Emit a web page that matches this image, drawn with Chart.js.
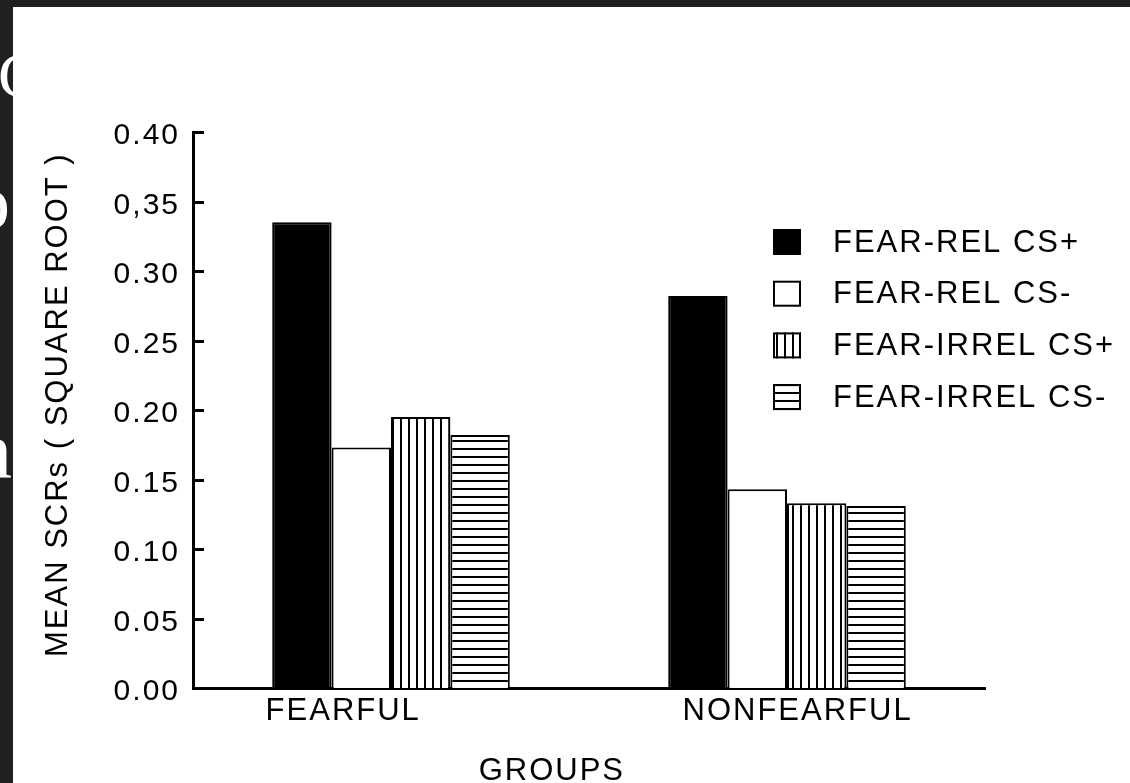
<!DOCTYPE html>
<html>
<head>
<meta charset="utf-8">
<script src="https://cdn.jsdelivr.net/npm/chart.js@4.4.1/dist/chart.umd.min.js"></script>
<style>
html, body { margin:0; padding:0; width:1130px; height:783px; overflow:hidden; background:#202020; }
#frame { position:absolute; left:0; top:0; width:1130px; height:783px; overflow:hidden; }
.edge { position:absolute; color:#fff; font-family:"Liberation Serif","DejaVu Serif",serif; line-height:1; white-space:nowrap; }
#paper { position:absolute; left:13px; top:7px; right:0; bottom:0; background:#fff; }
#wrap { position:absolute; left:0; top:0; width:1130px; height:790px; }
canvas { display:block; }
</style>
</head>
<body>
<div id="frame">
  <div class="edge" style="left:-2px;top:44px;font-size:64px">C</div>
  <div class="edge" style="left:-29px;top:163px;font-size:78px">o</div>
  <div class="edge" style="left:-28px;top:410px;font-size:80px">n</div>
  <div id="paper"></div>
  <div id="wrap"><canvas id="c" width="1130" height="790" style="width:1130px;height:790px"></canvas></div>
</div>
<script>
// ---- data ----
const categories = ['FEARFUL', 'NONFEARFUL'];
const seriesNames = ['FEAR-REL CS+', 'FEAR-REL CS-', 'FEAR-IRREL CS+', 'FEAR-IRREL CS-'];
const fearRelCSplus   = [0.335, 0.282];
const fearRelCSminus  = [0.173, 0.143];
const fearIrrelCSplus = [0.195, 0.133];
const fearIrrelCSminus= [0.182, 0.131];
const yTickValues = [0, 0.05, 0.10, 0.15, 0.20, 0.25, 0.30, 0.35, 0.40];
const yTickLabels = ['0.00', '0.05', '0.10', '0.15', '0.20', '0.25', '0.30', '0,35', '0.40'];
const xTitle = 'GROUPS';
const yTitle = 'MEAN SCRs ( SQUARE ROOT )';

// ---- styling helpers ----
const FONT = '"Liberation Sans", Arial, Helvetica, sans-serif';
const canvas = document.getElementById('c');
const mainCtx = canvas.getContext('2d');

function stripePattern(vertical) {
  const t = document.createElement('canvas');
  t.width = 8; t.height = 8;
  const g = t.getContext('2d');
  g.fillStyle = '#fff'; g.fillRect(0, 0, 8, 8);
  g.fillStyle = '#000';
  if (vertical) g.fillRect(0, 0, 2, 8); else g.fillRect(0, 0, 8, 2);
  return mainCtx.createPattern(t, 'repeat');
}

const fills = ['#000000', '#ffffff', stripePattern(true), stripePattern(false)];
const seriesValues = [fearRelCSplus, fearRelCSminus, fearIrrelCSplus, fearIrrelCSminus];

// label placement padding (visual offsets of the printed labels)
const xLabelLead  = ['', '  '];
const xLabelTrail = ['         ', ''];

const spacingPlugin = {
  id: 'spacing',
  beforeDraw(chart) { chart.ctx.letterSpacing = '2px'; }
};

const innerTicksPlugin = {
  id: 'innerTicks',
  afterDraw(chart) {
    const ys = chart.scales.y, ctx = chart.ctx;
    ctx.save();
    ctx.strokeStyle = '#000'; ctx.lineWidth = 3;
    ys.ticks.forEach(t => {
      if (t.value === 0) return;
      const py = Math.round(ys.getPixelForValue(t.value)) + 0.5;
      ctx.beginPath(); ctx.moveTo(ys.right - 1, py); ctx.lineTo(ys.right + 11, py); ctx.stroke();
    });
    ctx.restore();
  }
};

const boxLegendPlugin = {
  id: 'boxLegend',
  afterDraw(chart, args, o) {
    const ctx = chart.ctx;
    ctx.save();
    ctx.font = '31px ' + FONT;
    ctx.letterSpacing = '2px';
    ctx.textBaseline = 'middle';
    ctx.textAlign = 'left';
    chart.data.datasets.forEach((ds, i) => {
      const cy = o.y + i * o.step;
      const bx = o.x, by = cy - o.h / 2;
      ctx.fillStyle = ds.backgroundColor;
      ctx.fillRect(bx, by, o.w, o.h);
      ctx.lineWidth = 2; ctx.strokeStyle = '#000';
      ctx.strokeRect(bx + 1, by + 1, o.w - 2, o.h - 2);
      ctx.fillStyle = '#000';
      ctx.fillText(ds.label, o.textX, cy + 1);
    });
    ctx.restore();
  }
};

Chart.defaults.font.family = FONT;
Chart.defaults.font.size = 31;
Chart.defaults.color = '#000';

new Chart(mainCtx, {
  type: 'bar',
  data: {
    labels: categories,
    datasets: seriesNames.map((name, i) => ({
      label: name,
      data: seriesValues[i],
      backgroundColor: fills[i],
      borderColor: '#000',
      borderWidth: 2,
      borderSkipped: 'bottom',
      barPercentage: 1.0,
      categoryPercentage: 0.6
    }))
  },
  options: {
    responsive: false,
    animation: false,
    layout: { padding: { top: 132, right: 145, left: 0, bottom: 0 } },
    plugins: {
      legend: { display: false },
      tooltip: { enabled: false },
      boxLegend: { x: 773, y: 242, step: 51.7, w: 28, h: 26, textX: 833 }
    },
    scales: {
      x: {
        type: 'category',
        offset: true,
        grid: { display: false, drawTicks: false },
        border: { display: true, width: 3, color: '#000' },
        ticks: {
          padding: 5, maxRotation: 0, minRotation: 0, autoSkip: false,
          font: { size: 31 },
          callback: function (v, i) { return xLabelLead[i] + this.getLabelForValue(v) + xLabelTrail[i]; }
        },
        title: { display: true, text: xTitle + '       ', font: { size: 31 }, padding: { top: 0, bottom: 0 } },
        afterFit(s) { s.height = 102; }
      },
      y: {
        min: 0, max: 0.4,
        grid: { display: false, drawTicks: false },
        border: { display: true, width: 3, color: '#000' },
        afterBuildTicks(s) { s.ticks = yTickValues.map(v => ({ value: v })); },
        ticks: {
          padding: 13,
          labelOffset: 4,
          font: { size: 30 },
          callback: (v) => { const k = yTickValues.findIndex(t => Math.abs(t - v) < 1e-9); return k >= 0 ? yTickLabels[k] : ''; }
        },
        title: { display: true, text: ' ' + yTitle, font: { size: 31 }, padding: { top: 40, bottom: 0 } },
        afterFit(s) { s.width = 193; }
      }
    }
  },
  plugins: [spacingPlugin, innerTicksPlugin, boxLegendPlugin]
});
</script>
</body>
</html>
